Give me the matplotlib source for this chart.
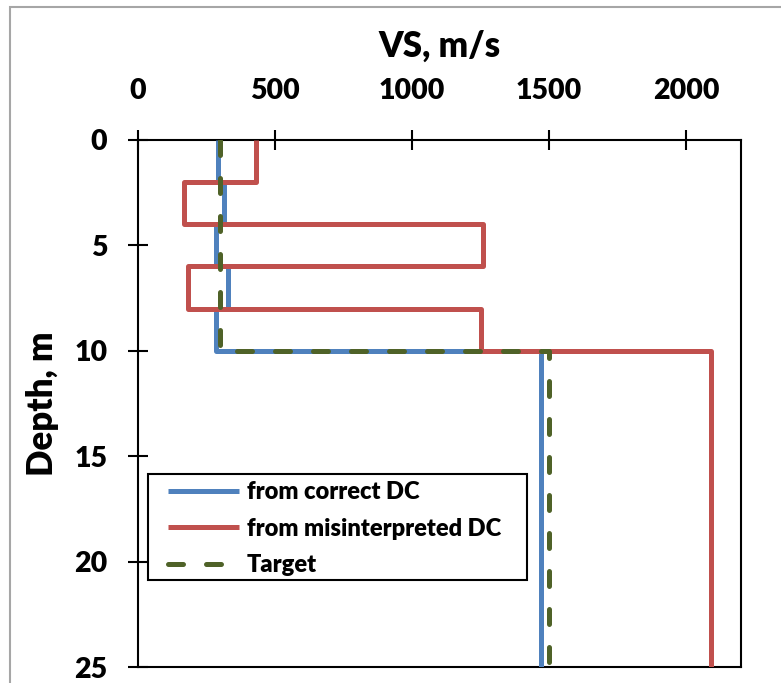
import numpy as np
import matplotlib
matplotlib.use("Agg")
import matplotlib.pyplot as plt
from matplotlib.patches import Rectangle

plt.rcParams['font.family'] = ['Lato', 'DejaVu Sans']
plt.rcParams['font.weight'] = 'heavy'

# Layer boundaries (depth, m) and velocities (m/s)
depth_bounds = [0, 2, 4, 6, 8, 10, 25]
vs_correct = [292, 314, 284, 327, 284, 1469]
vs_misinterp = [430, 168, 1257, 181, 1250, 2090]
target_bounds = [0, 10, 25]
vs_target = [299, 1498]

x_ticks = [0, 500, 1000, 1500, 2000]
y_ticks = [0, 5, 10, 15, 20, 25]


def profile(bounds, vs):
    xs, ys = [], []
    for i, v in enumerate(vs):
        xs += [v, v]
        ys += [bounds[i], bounds[i + 1]]
    return xs, ys


W, H = 781, 683
AX_L, AX_R, AX_T, AX_B = 138, 741, 140, 667
fig = plt.figure(figsize=(W / 100, H / 100), dpi=100)
ax = fig.add_axes([AX_L / W, 1 - AX_B / H, (AX_R - AX_L) / W, (AX_B - AX_T) / H])
aw, ah = AX_R - AX_L, AX_B - AX_T

# gray chart-area border
fig.patches.append(Rectangle((10 / W, -0.1), 1.2, 1 - 7 / H + 0.1,
                             transform=fig.transFigure, fill=False,
                             edgecolor='#A6A6A6', lw=1.5))

lw = 3.6
x, y = profile(depth_bounds, vs_correct)
ax.plot(x, y, color='#4F81BD', lw=lw, solid_joinstyle='round',
        solid_capstyle='butt', label='from correct DC', zorder=3)
x, y = profile(depth_bounds, vs_misinterp)
ax.plot(x, y, color='#C0504D', lw=lw, solid_joinstyle='round',
        solid_capstyle='butt', label='from misinterpreted DC', zorder=4)
x, y = profile(target_bounds, vs_target)
ax.plot(x, y, color='#4F6228', lw=lw, dashes=(3.0, 4.6),
        dash_capstyle='round', label='Target', zorder=5)

ax.set_xlim(0, 2200)
ax.set_ylim(25, 0)
ax.xaxis.tick_top()
ax.xaxis.set_label_position('top')
ax.set_xticks(x_ticks)
ax.set_yticks(y_ticks)
ax.tick_params(axis='both', direction='inout', length=14, width=1.5,
               labelsize=20.5, pad=15, colors='black')
ax.tick_params(axis='x', pad=19)
for lab in ax.get_xticklabels() + ax.get_yticklabels():
    lab.set_fontweight('heavy')
for s in ax.spines.values():
    s.set_linewidth(1.5)
    s.set_color('black')

ax.set_xlabel('VS, m/s', fontsize=25, fontweight='heavy', labelpad=15)
ax.set_ylabel('Depth, m', fontsize=25, fontweight='heavy', labelpad=11)

# legend frame (drawn separately so the inner padding matches)
ax.add_patch(Rectangle(((148 - AX_L) / aw, 1 - (580 - AX_T) / ah),
                       (527 - 148) / aw, (580 - 474) / ah,
                       transform=ax.transAxes, fill=True, facecolor='white',
                       edgecolor='black', lw=1.5, zorder=6))
leg = ax.legend(loc='upper left',
                bbox_to_anchor=((168 - AX_L) / aw, 1 - (481 - AX_T) / ah),
                borderaxespad=0, frameon=False, fontsize=17,
                handlelength=3.0, handletextpad=0.35, labelspacing=0.62,
                borderpad=0)
leg.set_zorder(7)
for t in leg.get_texts():
    t.set_fontweight('heavy')

fig.savefig('out.png', dpi=100)
